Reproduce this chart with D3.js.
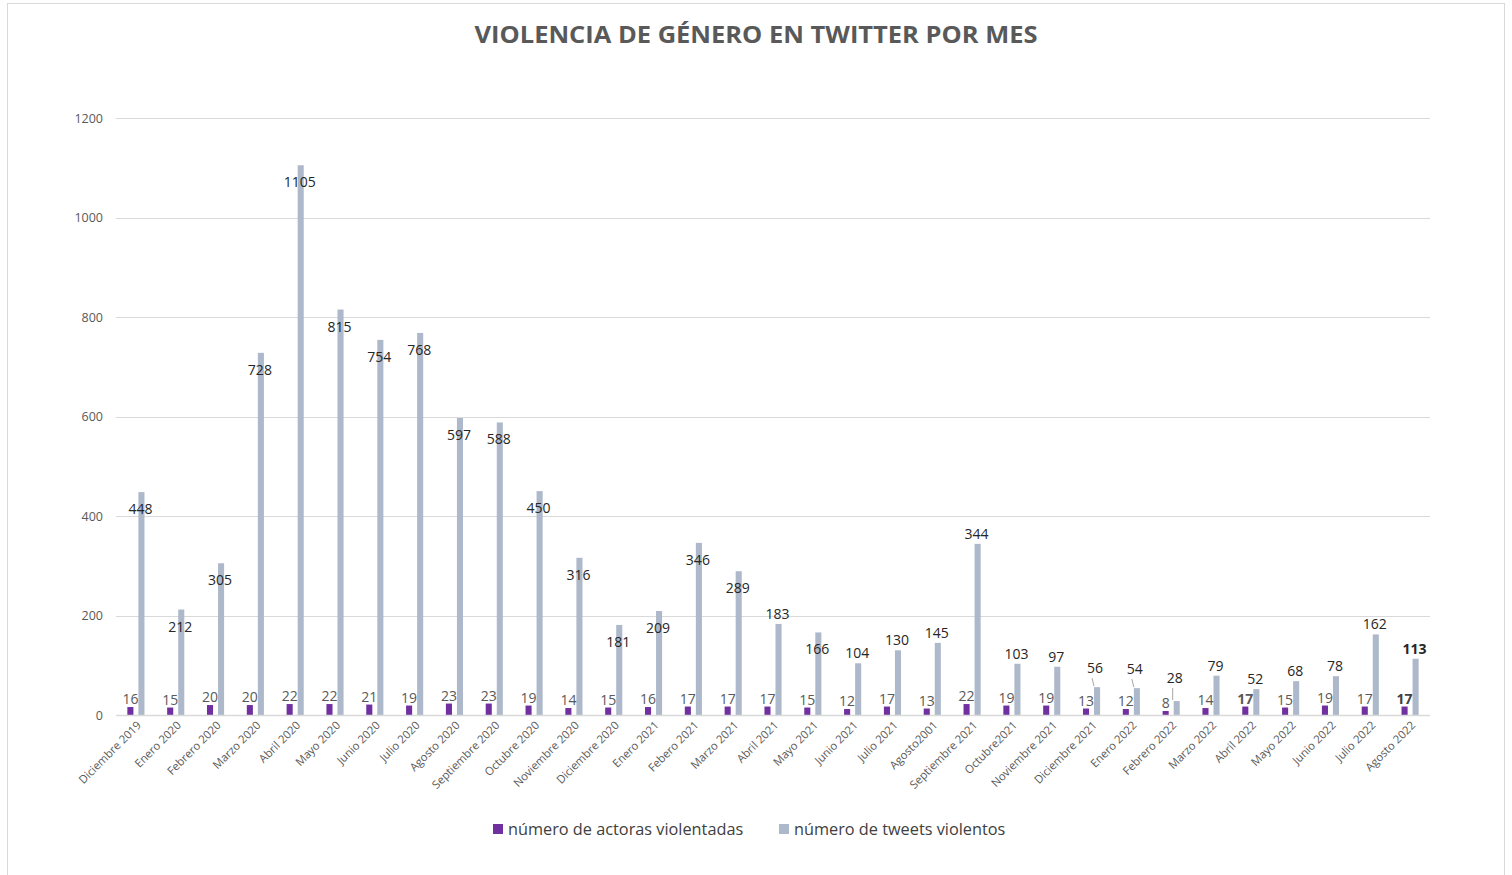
<!DOCTYPE html>
<html>
<head>
<meta charset="utf-8">
<script src="https://cdn.jsdelivr.net/npm/d3@7"></script>
<style>
  body { margin: 0; background: #fff; }
  text { font-family: "Open Sans", "Noto Sans", sans-serif; }
</style>
</head>
<body>
<svg id="chart" width="1512" height="875"></svg>
<script>
var months = ["Diciembre 2019", "Enero 2020", "Febrero 2020", "Marzo 2020", "Abril 2020", "Mayo 2020",
  "Junio 2020", "Julio 2020", "Agosto 2020", "Septiembre 2020", "Octubre 2020", "Noviembre 2020",
  "Diciembre 2020", "Enero 2021", "Febero 2021", "Marzo 2021", "Abril 2021", "Mayo 2021",
  "Junio 2021", "Julio 2021", "Agosto2001", "Septiembre 2021", "Octubre2021", "Noviembre 2021",
  "Diciembre 2021", "Enero 2022", "Febrero 2022", "Marzo 2022", "Abril 2022", "Mayo 2022",
  "Junio 2022", "Julio 2022", "Agosto 2022"];
var actoras = [16, 15, 20, 20, 22, 22, 21, 19, 23, 23, 19, 14, 15, 16, 17, 17, 17, 15, 12, 17, 13, 22,
  19, 19, 13, 12, 8, 14, 17, 15, 19, 17, 17];
var tweets = [448, 212, 305, 728, 1105, 815, 754, 768, 597, 588, 450, 316, 181, 209, 346, 289, 183, 166,
  104, 130, 145, 344, 103, 97, 56, 54, 28, 79, 52, 68, 78, 162, 113];
var yTicks = [0, 200, 400, 600, 800, 1000, 1200];
var seriesNames = ["número de actoras violentadas", "número de tweets violentos"];
var colors = ["#7030a0", "#adb9ca"];

var svg = d3.select("#chart");
var plotLeft = 116, plotRight = 1430, plotTop = 118, plotBottom = 715;

// frame
svg.append("rect").attr("x", 7.5).attr("y", 3.5).attr("width", 1497).attr("height", 880)
  .attr("fill", "none").attr("stroke", "#d9d9d9");

svg.append("text").attr("x", 756).attr("y", 43).attr("text-anchor", "middle")
  .attr("font-size", 24).attr("font-weight", "bold").attr("fill", "#595959")
  .attr("textLength", 563).attr("lengthAdjust", "spacingAndGlyphs")
  .text("VIOLENCIA DE GÉNERO EN TWITTER POR MES");

var x = d3.scaleBand().domain(months).range([plotLeft, plotRight]).paddingInner(0.57).paddingOuter(0.285);
var x1 = d3.scaleBand().domain([0, 1]).range([0, x.bandwidth()]).paddingInner(0.45);
var y = d3.scaleLinear().domain([0, 1200]).range([plotBottom, plotTop]);

// grid
svg.append("g").selectAll("line").data(yTicks).join("line")
  .attr("x1", plotLeft).attr("x2", plotRight)
  .attr("y1", function(d) { return Math.round(y(d)) + 0.5; })
  .attr("y2", function(d) { return Math.round(y(d)) + 0.5; })
  .attr("stroke", "#d9d9d9").attr("stroke-width", 1);

var yAxis = svg.append("g").attr("transform", "translate(" + plotLeft + ",0)")
  .call(d3.axisLeft(y).tickValues(yTicks).tickFormat(d3.format("d")).tickSize(0).tickPadding(13));
yAxis.select(".domain").remove();
yAxis.selectAll("text").attr("font-size", 12.5).attr("fill", "#595959")
  .style("font-family", "'Open Sans', sans-serif");

var xAxis = svg.append("g").attr("transform", "translate(0," + plotBottom + ")")
  .call(d3.axisBottom(x).tickSize(0).tickPadding(0));
xAxis.select(".domain").remove();
xAxis.selectAll("text").attr("font-size", 11.3).attr("fill", "#595959")
  .style("font-family", "'Open Sans', sans-serif")
  .attr("text-anchor", "end").attr("dy", 0)
  .attr("transform", "translate(6,11) rotate(-45)");

var groups = svg.append("g").selectAll("g").data(months).join("g")
  .attr("transform", function(d) { return "translate(" + x(d) + ",0)"; });

groups.append("rect").attr("x", x1(0)).attr("width", x1.bandwidth())
  .attr("y", function(d, i) { return y(actoras[i]); })
  .attr("height", function(d, i) { return plotBottom - y(actoras[i]); })
  .attr("fill", colors[0]);
groups.append("rect").attr("x", x1(1)).attr("width", x1.bandwidth())
  .attr("y", function(d, i) { return y(tweets[i]); })
  .attr("height", function(d, i) { return plotBottom - y(tweets[i]); })
  .attr("fill", colors[1]);

// baseline
svg.append("line").attr("x1", plotLeft).attr("x2", plotRight).attr("y1", plotBottom + 0.5).attr("y2", plotBottom + 0.5)
  .attr("stroke", "#d9d9d9").attr("stroke-width", 1.5);

// labels for actoras
var boldIdx = [28, 32];
groups.append("text").attr("text-anchor", "middle")
  .attr("x", x1(0) + x1.bandwidth() / 2)
  .attr("y", function(d, i) { return y(actoras[i]) - 3; })
  .attr("font-size", 14)
  .attr("font-weight", function(d, i) { return boldIdx.indexOf(i) >= 0 ? "bold" : "normal"; })
  .attr("fill", function(d, i) { return i === 32 ? "#404040" : "#595959"; })
  .text(function(d, i) { return actoras[i]; });

// labels for tweets: Excel placed some inside-end, some above, three with leader lines
var leader = [24, 25, 26];
function labelY(i) {
  var t = y(tweets[i]);
  if (leader.indexOf(i) >= 0) return t - (i === 26 ? 18 : 14);
  if (i === 16 || i >= 18) return t - 5;
  return t + 22;
}
groups.append("text").attr("text-anchor", "middle")
  .attr("x", function(d, i) { return x1(1) + x1.bandwidth() / 2 - (leader.indexOf(i) >= 0 ? 2 : 1); })
  .attr("y", function(d, i) { return labelY(i); })
  .attr("font-size", 14)
  .attr("font-weight", function(d, i) { return i === 32 ? "bold" : "normal"; })
  .attr("fill", "#262626")
  .text(function(d, i) { return tweets[i]; });

groups.filter(function(d, i) { return leader.indexOf(i) >= 0; }).append("line")
  .attr("x1", function(d) { var i = months.indexOf(d); return x1(1) + (i === 26 ? -1 : -2); })
  .attr("x2", function(d) { var i = months.indexOf(d); return x1(1) + (i === 26 ? -1 : 0); })
  .attr("y1", function(d) { var i = months.indexOf(d); return labelY(i) + 5; })
  .attr("y2", function(d) { var i = months.indexOf(d); return y(tweets[i]) - 1; })
  .attr("stroke", "#a6a6a6").attr("stroke-width", 1);

// legend
var legend = svg.append("g").attr("transform", "translate(493,829)");
var lx = [0, 286];
seriesNames.forEach(function(name, k) {
  legend.append("rect").attr("x", lx[k]).attr("y", -5).attr("width", 10).attr("height", 10).attr("fill", colors[k]);
  legend.append("text").attr("x", lx[k] + 15).attr("y", 5.5).attr("font-size", 16.3)
    .attr("fill", "#404040").text(name);
});
</script>
</body>
</html>
